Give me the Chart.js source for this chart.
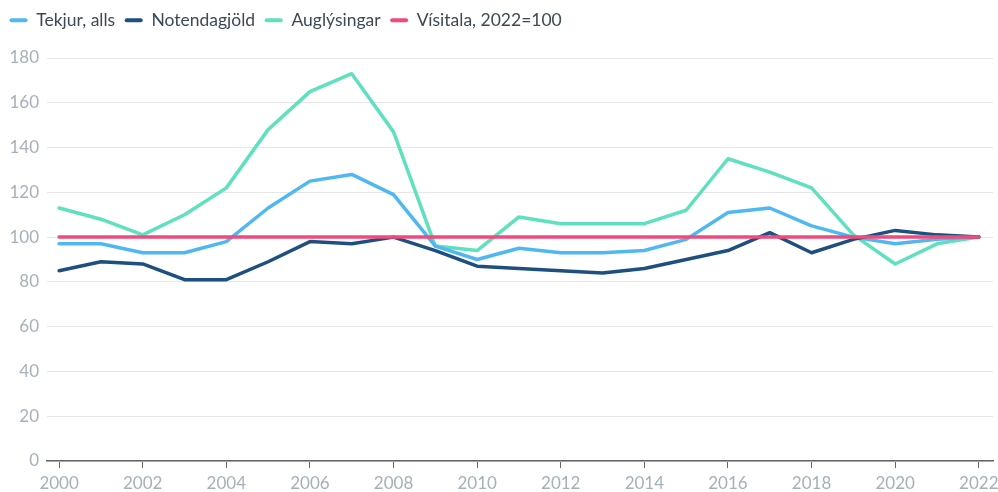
<!DOCTYPE html>
<html>
<head>
<meta charset="utf-8">
<script src="https://cdn.jsdelivr.net/npm/chart.js@4"></script>
<style>
  html, body { margin: 0; padding: 0; background: #fff; }
  #wrap { width: 998px; height: 492px; }
</style>
</head>
<body>
<div id="wrap"><canvas id="chart"></canvas></div>
<script>
const years = [2000, 2001, 2002, 2003, 2004, 2005, 2006, 2007, 2008, 2009, 2010, 2011,
  2012, 2013, 2014, 2015, 2016, 2017, 2018, 2019, 2020, 2021, 2022];
const xTicks = [2000, 2002, 2004, 2006, 2008, 2010, 2012, 2014, 2016, 2018, 2020, 2022];

const tekjur = [97, 97, 93, 93, 98, 113, 125, 128, 119, 96, 90, 95, 93, 93, 94, 99, 111, 113, 105, 100, 97, 99, 100];
const notendagjold = [85, 89, 88, 81, 81, 89, 98, 97, 100, 94, 87, 86, 85, 84, 86, 90, 94, 102, 93, 99, 103, 101, 100];
const auglysingar = [113, 108, 101, 110, 122, 148, 165, 173, 147, 96, 94, 109, 106, 106, 106, 112, 135, 129, 122, 101, 88, 97, 100];
const visitala = [100, 100, 100, 100, 100, 100, 100, 100, 100, 100, 100, 100, 100, 100, 100, 100, 100, 100, 100, 100, 100, 100, 100];

const font = "Lato, 'Open Sans', sans-serif";

const line = (label, data, color) => ({
  label: label,
  data: data,
  borderColor: color,
  backgroundColor: color,
  borderWidth: 3.5,
  pointRadius: 0,
  tension: 0,
  borderCapStyle: 'round',
  borderJoinStyle: 'round'
});

// fixed legend height so the plot starts where the reference does
const legendGap = {
  id: 'legendGap',
  beforeLayout(chart) {
    const lg = chart.legend;
    if (lg && !lg._patched) {
      const fit = lg.fit;
      lg.fit = function () { fit.call(this); this.height = 56; };
      lg._patched = true;
    }
  }
};

new Chart(document.getElementById('chart').getContext('2d'), {
  type: 'line',
  data: {
    labels: years,
    datasets: [
      line('Vísitala, 2022=100', visitala, '#ef4b7c'),
      line('Notendagjöld', notendagjold, '#1d4f80'),
      line('Tekjur, alls', tekjur, '#4fb8f3'),
      line('Auglýsingar', auglysingar, '#5fe0bf')
    ]
  },
  plugins: [legendGap],
  options: {
    responsive: true,
    maintainAspectRatio: false,
    animation: false,
    layout: { padding: { left: 0, right: 5, top: 2, bottom: 0 } },
    plugins: {
      tooltip: { enabled: false },
      legend: {
        position: 'top',
        align: 'start',
        reverse: true,
        labels: {
          boxWidth: 18,
          boxHeight: 4,
          padding: 9.5,
          color: '#3c4a55',
          font: { family: font, size: 17.5 },
          generateLabels: (chart) => {
            const items = Chart.defaults.plugins.legend.labels.generateLabels(chart);
            items.forEach(it => { it.lineWidth = 0; it.borderRadius = 2; });
            const want = ['Tekjur, alls', 'Notendagjöld', 'Auglýsingar', 'Vísitala, 2022=100'];
            return want.map(n => items.find(i => i.text === n)).reverse();
          }
        }
      }
    },
    scales: {
      x: {
        type: 'linear',
        min: 1999.71,
        max: 2022.34,
        afterBuildTicks: (axis) => { axis.ticks = xTicks.map(v => ({ value: v })); },
        afterFit: (axis) => {
          axis.height = 31;
          axis.paddingLeft = 0;
          axis.paddingRight = 0; // let "2022" run to the edge like the reference
        },
        border: { display: true, color: '#666', width: 1.5 },
        grid: { drawOnChartArea: false, drawTicks: true, tickLength: 7, color: '#666', lineWidth: 1 },
        ticks: {
          color: '#a4b1b9',
          font: { family: font, size: 17, lineHeight: 1 },
          padding: 7,
          maxRotation: 0,
          autoSkip: false,
          callback: (v) => String(v)
        }
      },
      y: {
        min: 0,
        max: 180,
        afterFit: (axis) => { axis.width = 47; },
        border: { display: false },
        grid: { color: '#e6e6e6', lineWidth: 1, drawTicks: false },
        ticks: {
          stepSize: 20,
          color: '#a4b1b9',
          font: { family: font, size: 17 },
          padding: 8
        }
      }
    }
  }
});
</script>
</body>
</html>
